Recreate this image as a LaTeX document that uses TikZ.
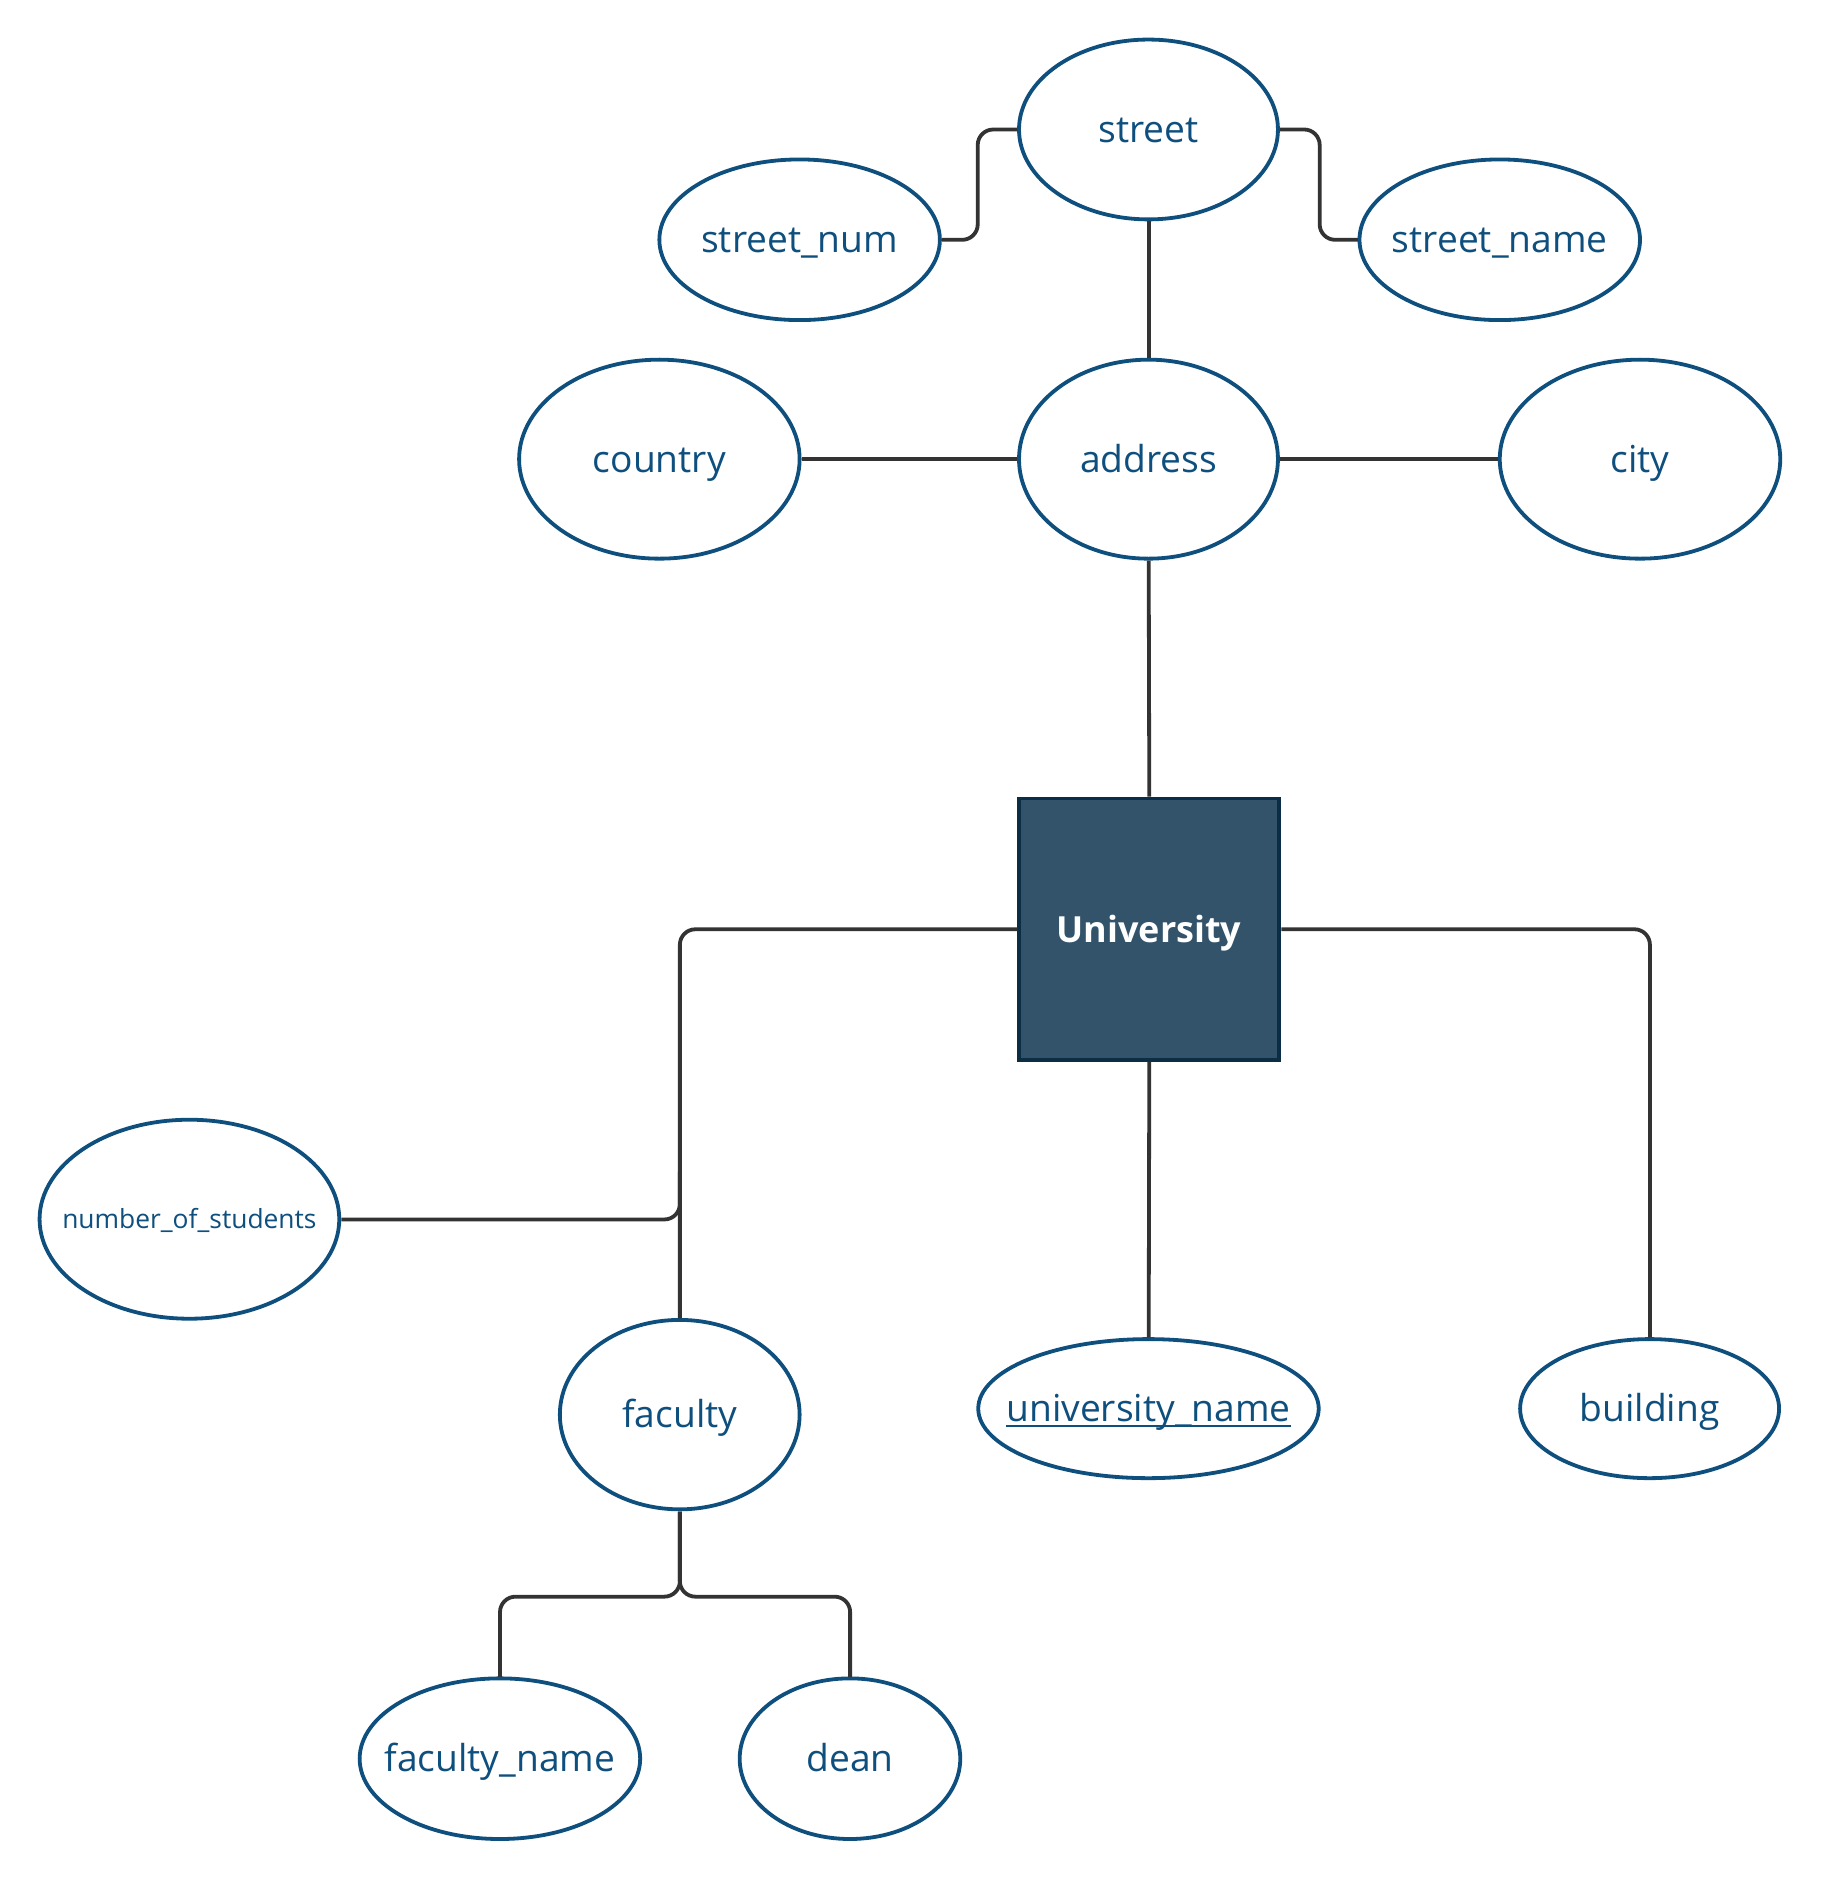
\documentclass[tikz,border=0pt]{standalone}
\usepackage{fontspec}
\setmainfont{Open Sans}
\usetikzlibrary{shapes.geometric}
\definecolor{attrblue}{HTML}{0E4F7E}
\definecolor{entfill}{HTML}{33536A}
\definecolor{entedge}{HTML}{0B2E44}
\definecolor{linegray}{HTML}{333333}
\newcommand\lbl[1]{\makebox[0pt][c]{#1}}
\newcommand\ulin[1]{\setbox0\hbox{#1}\rlap{\rule[-4.2pt]{\wd0}{1.8pt}}\box0}
\begin{document}
\begin{tikzpicture}[x=1pt,y=-1pt,scale=1.0075,every node/.append style={transform shape},
  attr/.style={ellipse, draw=attrblue, line width=3.2pt, fill=white, text=attrblue, inner sep=0pt,
    font=\fontsize{31}{37}\selectfont, text height=22pt, text depth=0pt},
  ent/.style={rectangle, draw=entedge, fill=entfill, line width=3.2pt, text=white, inner sep=0pt,
    font=\bfseries\fontsize{30}{36}\selectfont, text height=23pt, text depth=0pt,
    minimum width=217pt, minimum height=218pt},
  conn/.style={draw=linegray, line width=3.2pt, rounded corners=13pt}]
\useasboundingbox (0,0) rectangle (1518.6,1568.2);
\node[attr, minimum width=216pt, minimum height=150pt] (street) at (958,108) {\lbl{street}};
\node[attr, minimum width=234pt, minimum height=134pt] (snum) at (667,200) {\lbl{street\_num}};
\node[attr, minimum width=234pt, minimum height=134pt] (sname) at (1251,200) {\lbl{street\_name}};
\node[attr, minimum width=234pt, minimum height=166pt] (country) at (550,383) {\lbl{country}};
\node[attr, minimum width=216pt, minimum height=166pt] (address) at (958,383) {\lbl{address}};
\node[attr, minimum width=234pt, minimum height=166pt] (city) at (1368,383) {\lbl{city}};
\node[ent] (uni) at (958.5,775) {\lbl{University}};
\node[attr, minimum width=250pt, minimum height=166pt, font=\fontsize{22}{26}\selectfont, text height=15pt] (nos) at (158,1017) {\lbl{number\_of\_students}};
\node[attr, minimum width=200pt, minimum height=158pt] (faculty) at (567,1180) {\lbl{faculty}};
\node[attr, minimum width=284pt, minimum height=116pt] (uname) at (958,1175) {\lbl{\ulin{university\_name}}};
\node[attr, minimum width=216pt, minimum height=116pt] (building) at (1376,1175) {\lbl{building}};
\node[attr, minimum width=234pt, minimum height=134pt] (fname) at (417,1467) {\lbl{faculty\_name}};
\node[attr, minimum width=184pt, minimum height=134pt] (dean) at (709,1467) {\lbl{dean}};
\draw[conn] (street.west) -- ++(-33,0) |- (snum.east);
\draw[conn] (street.east) -- ++(33,0) |- (sname.west);
\draw[conn] (street.south) -- (address.north);
\draw[conn] (country.east) -- (address.west);
\draw[conn] (address.east) -- (city.west);
\draw[conn] (address.south) -- (uni.north);
\draw[conn] (uni.west) -| (faculty.north);
\draw[conn] (nos.east) -| ([yshift=40pt]faculty.north |- nos.east);
\draw[conn] (uni.east) -| (building.north);
\draw[conn] (uni.south) -- (uname.north);
\draw[conn] (faculty.south) -- ++(0,71) -| (fname.north);
\draw[conn] (faculty.south) -- ++(0,71) -| (dean.north);
\end{tikzpicture}
\end{document}
